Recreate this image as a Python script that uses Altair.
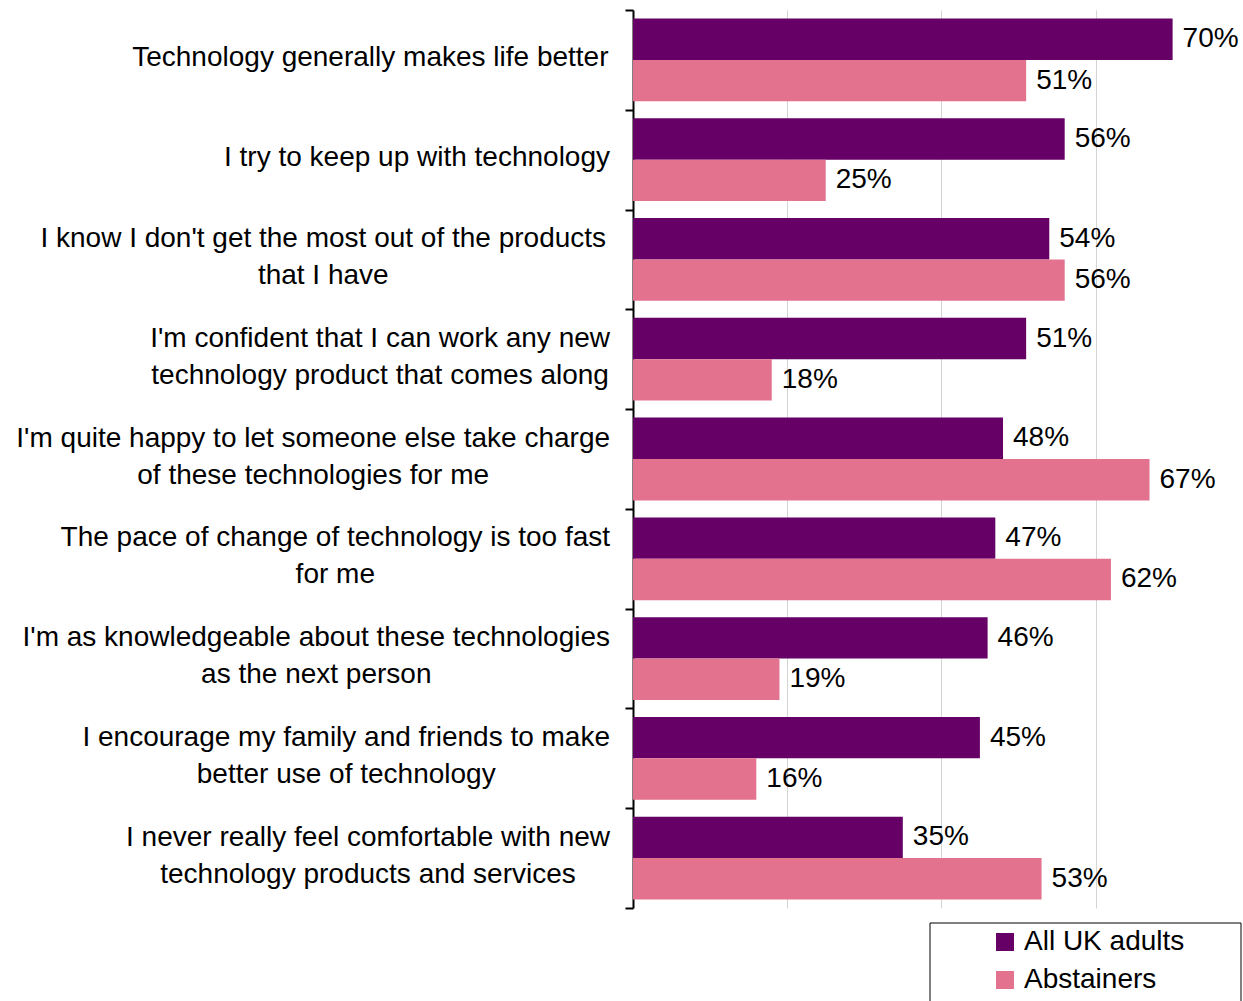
import altair as alt
import pandas as pd

categories = [
    "Technology generally makes life better",
    "I try to keep up with technology",
    "I know  I don't get the most out of the products\nthat I have",
    "I'm confident that I can work any new\ntechnology product that comes along",
    "I'm quite happy to let someone else take charge\nof these technologies for me",
    "The pace of change of technology is too fast\nfor me",
    "I'm as knowledgeable about these technologies\nas the next person",
    "I encourage my family and friends to make\nbetter use of technology",
    "I never really feel comfortable with new\ntechnology products and services",
]
series = ["All UK adults", "Abstainers"]
all_uk = [70, 56, 54, 51, 48, 47, 46, 45, 35]
abstainers = [51, 25, 56, 18, 67, 62, 19, 16, 53]
colors = ["#660066", "#E3728E"]

FONT = "Liberation Sans"
FS = 28
LINE_H = 37

rows = []
for c, a, b in zip(categories, all_uk, abstainers):
    rows.append({"category": c, "series": series[0], "value": a, "label": f"{a}%"})
    rows.append({"category": c, "series": series[1], "value": b, "label": f"{b}%"})
df = pd.DataFrame(rows)

# Arial / Liberation Sans advance widths (1/1000 em) for centring multi-line labels
W = {" ": 278, "'": 191, "a": 556, "b": 556, "c": 500, "d": 556, "e": 556, "f": 278,
     "g": 556, "h": 556, "i": 222, "j": 222, "k": 500, "l": 222, "m": 833, "n": 556,
     "o": 556, "p": 556, "q": 556, "r": 333, "s": 500, "t": 278, "u": 556, "v": 500,
     "w": 722, "x": 500, "y": 500, "z": 500, "I": 278, "T": 611}


def text_width(s, size):
    return sum(W.get(ch, 556) for ch in s) * size / 1000.0


LABEL_GAP = 23
lab_rows = []
for c in categories:
    lines = c.split("\n")
    wmax = max(text_width(s, FS) for s in lines)
    lab_rows.append({"category": c, "lines": lines, "n": len(lines),
                     "cx": -LABEL_GAP - wmax / 2})
lab_df = pd.DataFrame(lab_rows)

yscale = alt.Scale(domain=categories, paddingInner=0, paddingOuter=0)
offscale = alt.Scale(domain=series, paddingInner=0, paddingOuter=0.205)
xscale = alt.Scale(domain=[0, 79], nice=False)

base = alt.Chart(df)

bars = base.mark_bar().encode(
    y=alt.Y("category:N", sort=categories, scale=yscale,
            axis=alt.Axis(labels=False, title=None, tickBand="extent", tickSize=8,
                          tickWidth=2, tickColor="black", domainColor="black",
                          domainWidth=2, grid=False)),
    yOffset=alt.YOffset("series:N", sort=series, scale=offscale),
    x=alt.X("value:Q", scale=xscale,
            axis=alt.Axis(values=[20, 40, 60], labels=False, ticks=False, domain=False,
                          title=None, grid=True, gridColor="#D4D4D4", gridWidth=1)),
    color=alt.Color("series:N", sort=series,
                    scale=alt.Scale(domain=series, range=colors),
                    legend=alt.Legend(title=None, orient="none", legendX=358, legendY=918,
                                      symbolType="square", symbolSize=324, symbolStrokeWidth=0,
                                      labelFont=FONT, labelFontSize=FS, labelColor="black",
                                      labelOffset=5, labelLimit=400, rowPadding=10,
                                      padding=0)),
)

values = base.mark_text(align="left", baseline="middle", dx=10, font=FONT,
                        fontSize=FS, color="black").encode(
    y=alt.Y("category:N", sort=categories, scale=yscale),
    yOffset=alt.YOffset("series:N", sort=series, scale=offscale),
    x=alt.X("value:Q", scale=xscale),
    text="label:N",
)

lab_base = alt.Chart(lab_df)
single_labels = lab_base.transform_filter("datum.n == 1").mark_text(
    align="center", baseline="middle", font=FONT, fontSize=FS, dy=-2, color="black").encode(
    y=alt.Y("category:N", sort=categories, scale=yscale),
    x=alt.X("cx:Q", scale=None, axis=None),
    text=alt.Text("lines:N"),
)
multi_labels = lab_base.transform_filter("datum.n == 2").mark_text(
    align="center", baseline="middle", font=FONT, fontSize=FS, lineHeight=LINE_H,
    dy=-LINE_H / 2 - 2, color="black").encode(
    y=alt.Y("category:N", sort=categories, scale=yscale),
    x=alt.X("cx:Q", scale=None, axis=None),
    text=alt.Text("lines:N"),
)

box = alt.Chart(pd.DataFrame({"k": [0]})).mark_rect(fill=None, stroke="black", strokeWidth=1).encode(
    x=alt.value(297), x2=alt.value(608), y=alt.value(913), y2=alt.value(1000)
)

chart = alt.layer(bars, values, single_labels, multi_labels, box).properties(
    width=609, height=898, autosize="none",
    padding={"left": 633, "top": 10, "right": 1, "bottom": 93},
).configure(font=FONT).configure_view(strokeWidth=0, stroke="transparent")

chart.save("out.html", embed_options={"renderer": "svg", "actions": False})
